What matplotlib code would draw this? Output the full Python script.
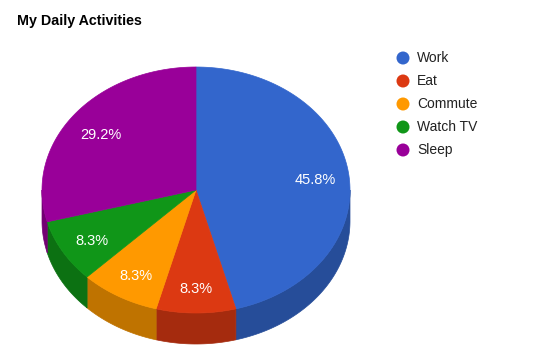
import numpy as np
import matplotlib
matplotlib.use('Agg')
import matplotlib.pyplot as plt
from matplotlib.patches import Polygon, Circle

plt.rcParams['font.family'] = ['Liberation Sans', 'DejaVu Sans']

######
#   data
######
activities = ['Work', 'Eat', 'Commute', 'Watch TV', 'Sleep']
hours = [11, 2, 2, 2, 7]
top_colors = ['#3366cc', '#dc3912', '#ff9900', '#109618', '#990099']
side_colors = ['#264d99', '#a52b0e', '#bf7300', '#0c7112', '#730073']

# pie geometry in pixels
cx, cy = 196, 190
rx, ry = 154, 123
depth = 31


def ellipse_pts(a0, a1, dy=0, n=120):
    # angles in degrees, clockwise from 12 o'clock
    t = np.radians(np.linspace(a0, a1, n))
    return np.column_stack([cx + rx * np.sin(t), cy - ry * np.cos(t) + dy])


fig = plt.figure(figsize=(5.6, 3.55), dpi=100)
ax = fig.add_axes([0, 0, 1, 1])
ax.set_xlim(0, 560)
ax.set_ylim(355, 0)
ax.axis('off')

total = sum(hours)
angles = np.cumsum([0] + [h / total * 360 for h in hours])

# side walls (front half only)
for i in range(len(hours)):
    a0 = max(angles[i], 90)
    a1 = min(angles[i + 1], 270)
    if a1 <= a0:
        continue
    top = ellipse_pts(a0, a1)
    bottom = ellipse_pts(a0, a1, dy=depth)[::-1]
    ax.add_patch(Polygon(np.vstack([top, bottom]), closed=True,
                         facecolor=side_colors[i], edgecolor=side_colors[i], lw=0.5))

# top faces
for i in range(len(hours)):
    pts = np.vstack([[cx, cy], ellipse_pts(angles[i], angles[i + 1])])
    ax.add_patch(Polygon(pts, closed=True, facecolor=top_colors[i],
                         edgecolor=top_colors[i], lw=0.5))

# percentage labels
for i in range(len(hours)):
    mid = np.radians((angles[i] + angles[i + 1]) / 2)
    lx = cx + 0.78 * rx * np.sin(mid)
    ly = cy + 3 - 0.78 * ry * np.cos(mid)
    ax.text(lx, ly, '%.1f%%' % (hours[i] / total * 100), color='white',
            fontsize=10.5, ha='center', va='center')

ax.text(17, 21, 'My Daily Activities', fontsize=10.3, fontweight='bold',
        ha='left', va='center', color='black')

# legend
for i, name in enumerate(activities):
    ly = 58 + i * 23
    ax.add_patch(Circle((403, ly), 6.5, facecolor=top_colors[i], edgecolor='none'))
    ax.text(417, ly, name, fontsize=10, ha='left', va='center', color='#222222')

plt.savefig('out.png', dpi=100)
